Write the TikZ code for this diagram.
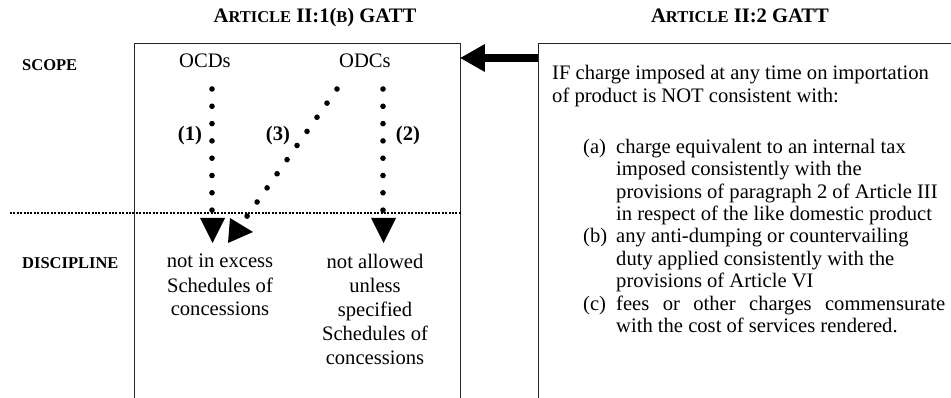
\documentclass[tikz,border=0pt]{standalone}
\usepackage{fontspec}
\setmainfont{Liberation Serif}
\usetikzlibrary{arrows.meta}
\newcommand{\bodyfont}{\fontsize{20.6}{24}\selectfont}
\newcommand{\listfont}{\fontsize{20.6}{22.4}\selectfont}
\newcommand{\scfont}{\fontsize{16.5}{18}\selectfont}
\newcommand{\headfont}{\fontsize{20.6}{24}\selectfont\bfseries}
\begin{document}
\begin{tikzpicture}[x=1pt,y=1pt,
  boxline/.style={draw=black!85, line width=1.4pt, inner sep=0, anchor=north west},
  dotline/.style={line width=5.6pt, line cap=round, dash pattern=on 0pt off 17.3pt},
  rulestyle/.style={line width=2pt, dash pattern=on 2pt off 1.4pt},
  headtext/.style={font=\headfont, inner sep=0, anchor=base},
  sidetext/.style={font=\scfont\bfseries, inner sep=0, anchor=base west},
  bodytext/.style={font=\bodyfont, inner sep=0},
  numtext/.style={font=\bodyfont\bfseries, inner sep=0},
  disc/.style={font=\bodyfont, inner sep=0, anchor=north, align=center},
  bigarrow/.style={line width=8pt, -{Triangle[length=25pt,width=26pt]}, shorten >=-1.5pt}]
\useasboundingbox (0,0) rectangle (951,-398);

% boxes (open at the bottom, running off the page)
\node[boxline, minimum width=326pt, minimum height=400pt] (lbox) at (134,-43) {};
\node[boxline, minimum width=450pt, minimum height=400pt] (rbox) at (538,-43) {};

% headings
\node[headtext] (h1) at (315,-23) {A{\scfont RTICLE} II:1({\scfont B}) GATT};
\node[headtext] (h2) at (740,-23) {A{\scfont RTICLE} II:2 GATT};

% side labels
\node[sidetext] (scope) at (22,-71) {SCOPE};
\node[sidetext] (discipline) at (22,-269) {DISCIPLINE};

% scope items
\node[bodytext, anchor=base] (ocd) at (205,-68) {OCDs};
\node[bodytext, anchor=base] (odc) at (365,-68) {ODCs};

% dotted separator
\coordinate (hl) at (10,-213);
\draw[rulestyle] (hl) -- (lbox.east |- hl);

% dotted connectors
\coordinate (d1s) at (212,-89);
\coordinate (d1e) at (212,-210.1);
\coordinate (d2s) at (383,-89);
\coordinate (d2e) at (383,-210.1);
\coordinate (d3s) at (337,-89);
\coordinate (d3e) at (246.7,-216.7);
\draw[dotline] (d1s) -- (d1e);
\draw[dotline] (d2s) -- (d2e);
\draw[dotline] (d3s) -- (d3e);

% arrowheads
\fill (200,-218) -- (225,-218) -- (212.5,-243) -- cycle;
\fill (371,-218) -- (396,-218) -- (383.5,-243) -- cycle;
\fill (230,-218) -- (228,-243) -- (253,-232) -- cycle;

% numbers
\node[numtext] (n1) at (190,-136) {(1)};
\node[numtext] (n3) at (278,-136) {(3)};
\node[numtext] (n2) at (408,-136) {(2)};

% discipline texts
\node[disc] (dl) at (220,-251) {\strut not in excess\\Schedules of\\concessions};
\node[disc] (dr) at (375,-251) {\strut not allowed\\unless\\specified\\Schedules of\\concessions};

% Article II:2 text
\node[anchor=north west, inner sep=0, align=left, font=\listfont] (cond) at (552,-64) {\strut IF charge imposed at any time on importation\\
of product is NOT consistent with:\\[28.6pt]
\hspace*{31pt}\makebox[33pt][l]{(a)}charge equivalent to an internal tax\\
\hspace*{64pt}imposed consistently with the\\
\hspace*{64pt}provisions of paragraph 2 of Article III\\
\hspace*{64pt}in respect of the like domestic product\\
\hspace*{31pt}\makebox[33pt][l]{(b)}any anti-dumping or countervailing\\
\hspace*{64pt}duty applied consistently with the\\
\hspace*{64pt}provisions of Article VI\\
\hspace*{31pt}\makebox[33pt][l]{(c)}\makebox[329pt][s]{fees or other charges commensurate}\\
\hspace*{64pt}with the cost of services rendered.};

% arrow from Article II:2 box to Article II:1(b) box
\coordinate (as) at ([yshift=-15pt]rbox.north west);
\coordinate (ae) at ([yshift=-15pt]lbox.north east);
\draw[bigarrow] (as) -- (ae);
\end{tikzpicture}
\end{document}
